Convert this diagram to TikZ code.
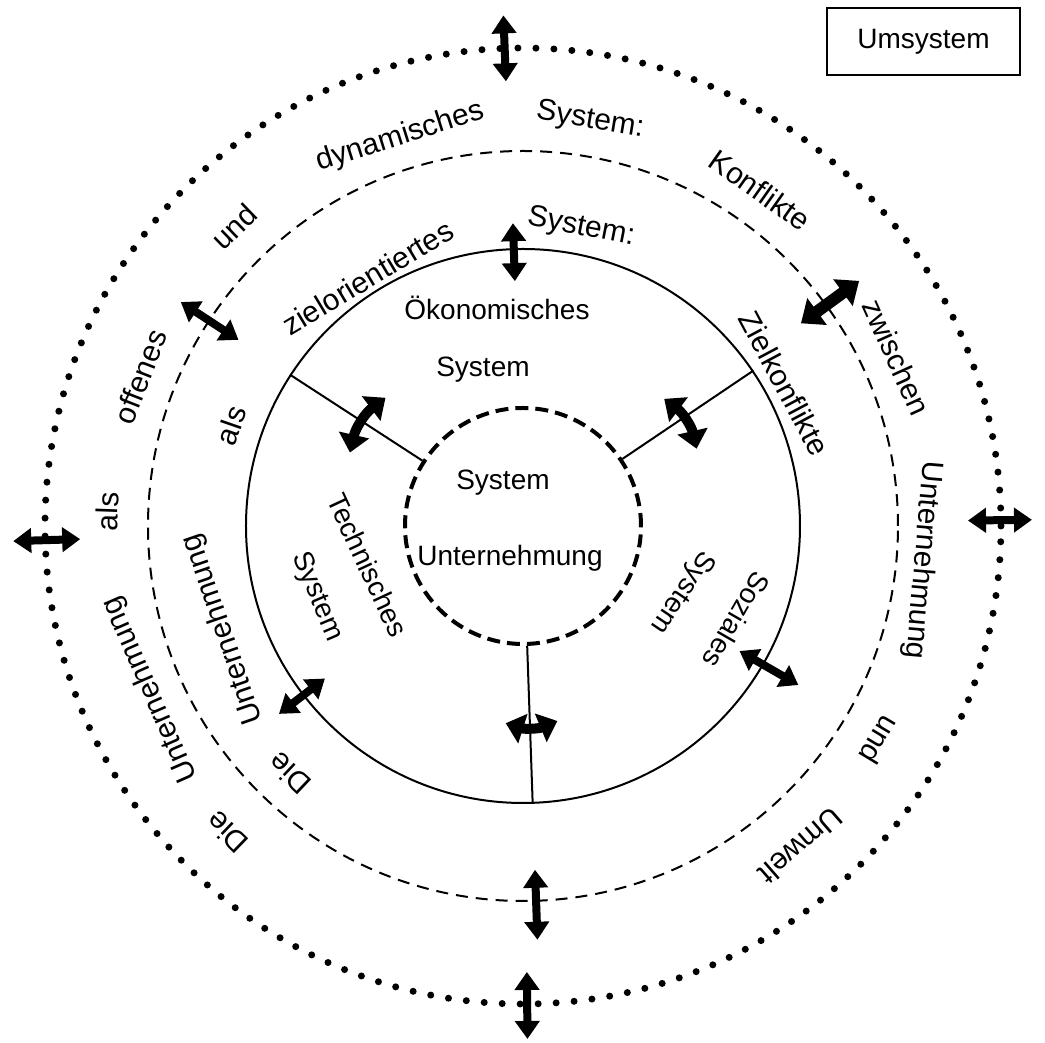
\documentclass[tikz,border=0pt]{standalone}
\usepackage{fontspec}
\setmainfont{Liberation Sans}
\usetikzlibrary{arrows.meta}
\begin{document}
\begin{tikzpicture}[
   x=0.5pt, y=0.5pt,
   dotring/.style={circle,draw,inner sep=0pt,line width=3.5pt,line cap=round,dash pattern=on 0pt off 9pt},
   dashring/.style={circle,draw,inner sep=0pt,line width=1pt,dash pattern=on 6pt off 4pt},
   solidring/.style={circle,draw,inner sep=0pt,line width=1pt},
   corering/.style={circle,draw,inner sep=0pt,line width=2pt,dash pattern=on 6.5pt off 3.5pt},
   spoke/.style={line width=1pt},
   word/.style={font=\fontsize{15}{18}\selectfont,inner sep=0pt},
   sub/.style={font=\fontsize{14}{17}\selectfont,inner sep=0pt},
   dbl/.style={line width=4pt,{Triangle[width=12pt,length=9pt]}-{Triangle[width=12pt,length=9pt]}},
   fat/.style={line width=6pt,{Triangle[width=16pt,length=10pt]}-{Triangle[width=16pt,length=10pt]}},
   bent/.style={line width=5pt,bend left=20,{Triangle[width=15pt,length=9pt]}-{Triangle[width=15pt,length=9pt]}}]
\useasboundingbox (-523,-517) rectangle (522,526);
% rings
\node[dotring,minimum size=478pt] (umwelt) at (0,0) {};
\node[dashring,minimum size=375pt] (ziel) at (0,0) {};
\node[solidring,minimum size=277pt] (subsys) at (0,0) {};
\node[corering,minimum size=118pt] (kern) at (0,0) {};
% spokes
\draw[spoke] (kern.147) -- (subsys.147);
\draw[spoke] (kern.34) -- (subsys.34);
\draw[spoke] (kern.272) -- (subsys.272);
% outer words
\node[word,rotate=136] (o1) at (226:426) {Die};
\node[word,rotate=113.7] (o2) at (203.7:407) {Unternehmung};
\node[word,rotate=88] (o3) at (178:416) {als};
\node[word,rotate=68.7] (o4) at (158.7:411) {offenes};
\node[word,rotate=44] (o5) at (134:416) {und};
\node[word,rotate=17.5] (o6) at (107.5:408) {dynamisches};
\node[word,rotate=-9.4] (o7) at (80.6:411) {System:};
\node[word,rotate=-35.2] (o8) at (54.8:411) {Konflikte};
\node[word,rotate=-65.7] (o9) at (24.3:410) {zwischen};
\node[word,rotate=-94.9] (o10) at (-4.9:401) {Unternehmung};
\node[word,rotate=-121] (o11) at (-31:416) {und};
\node[word,rotate=-139] (o12) at (-49:424) {Umwelt};
% middle words
\node[word,rotate=136.7] (m1) at (226.7:340) {Die};
\node[word,rotate=109] (m2) at (199:317) {Unternehmung};
\node[word,rotate=71] (m3) at (161:309) {als};
\node[word,rotate=31] (m4) at (122:293) {zielorientiertes};
\node[word,rotate=-11] (m5) at (79:304) {System:};
\node[word,rotate=-62] (m6) at (28.6:298) {Zielkonflikte};
% subsystems
\node[sub] (oek1) at (-26,218) {Ökonomisches};
\node[sub] (oek2) at (-40,156) {System};
\node[sub,rotate=-65] (tech1) at (-155,-39) {Technisches};
\node[sub,rotate=-67] (tech2) at (-206,-71) {System};
\node[sub,rotate=-120] (soz1) at (214,-94) {Soziales};
\node[sub,rotate=-124] (soz2) at (159,-66) {System};
\node[sub] (kern1) at (-20,43) {System};
\node[sub] (kern2) at (-13,-32) {Unternehmung};
\node[draw,line width=0.8pt,minimum width=96.5pt,minimum height=33.5pt,sub] (umsystem) at (400.5,484.5) {Umsystem};
% radial exchange arrows
\coordinate (a1) at (92.2:445); \coordinate (b1) at (92.2:511);
\coordinate (a2) at (91.9:245); \coordinate (b2) at (91.9:303);
\coordinate (a3) at (146.8:340); \coordinate (b3) at (146.8:409);
\coordinate (a4) at (36.1:344); \coordinate (b4) at (36.1:416);
\coordinate (a5) at (0.7:445); \coordinate (b5) at (0.7:509);
\coordinate (a6) at (181.7:443); \coordinate (b6) at (181.7:510);
\coordinate (a7) at (272:344); \coordinate (b7) at (272:414);
\coordinate (a8) at (270.5:446); \coordinate (b8) at (270.5:513);
\coordinate (a9) at (217.6:250); \coordinate (b9) at (217.6:308);
\coordinate (a10) at (-30:250); \coordinate (b10) at (-30:318);
\draw[dbl] (a1) -- (b1);
\draw[dbl] (a2) -- (b2);
\draw[dbl] (a3) -- (b3);
\draw[fat] (a4) -- (b4);
\draw[dbl] (a5) -- (b5);
\draw[dbl] (a6) -- (b6);
\draw[dbl] (a7) -- (b7);
\draw[dbl] (a8) -- (b8);
\draw[dbl] (a9) -- (b9);
\draw[dbl] (a10) -- (b10);
% arrows between the subsystems
\coordinate (c1) at (157:188); \coordinate (d1) at (137:188);
\coordinate (c2) at (42:190); \coordinate (d2) at (24:190);
\coordinate (c3) at (280:198); \coordinate (d3) at (265:198);
\draw[bent] (c1) to (d1);
\draw[bent] (c2) to (d2);
\draw[bent] (c3) to (d3);
\end{tikzpicture}
\end{document}
